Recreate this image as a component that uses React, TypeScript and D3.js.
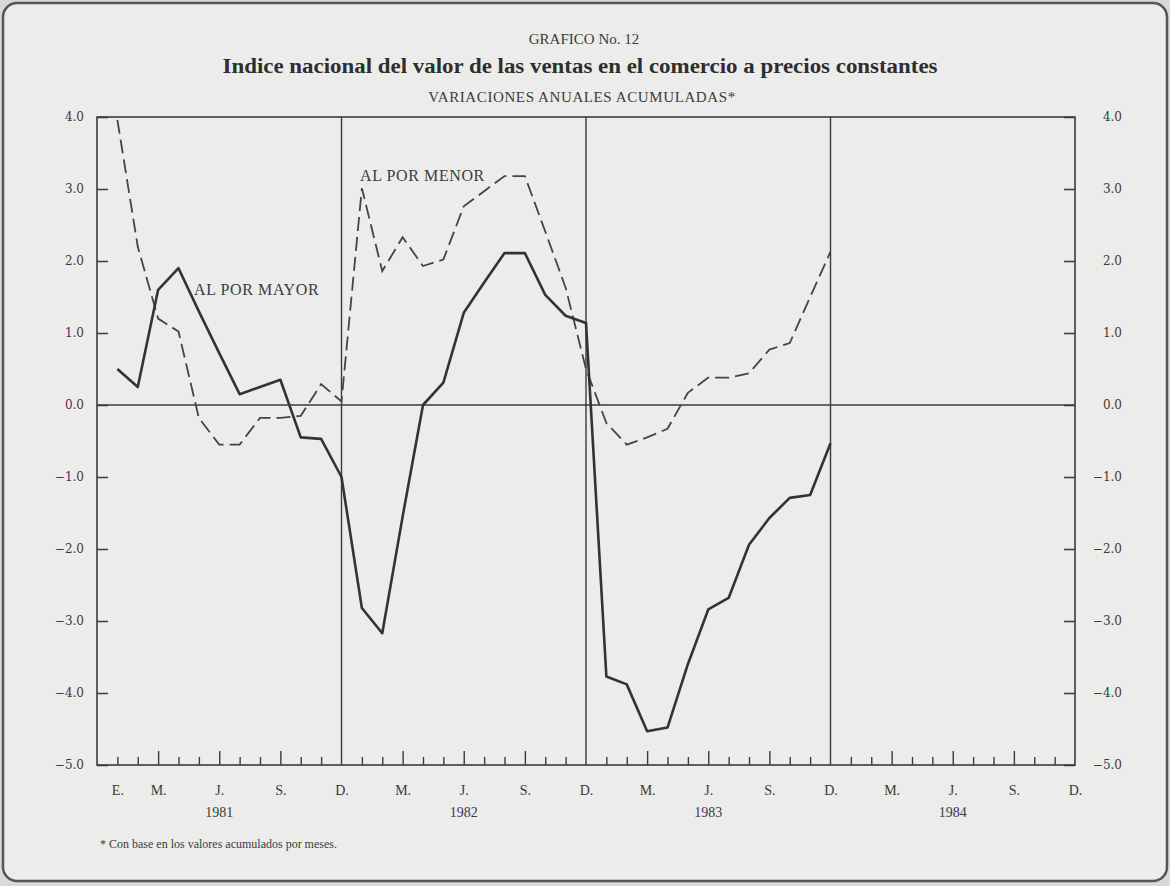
import * as d3 from "d3";
import { useRef, useEffect } from "react";

// Variaciones anuales acumuladas (%), enero 1981 - diciembre 1983
const alPorMayor = [
  0.5, 0.25, 1.6, 1.9, 1.3, 0.72, 0.15, 0.25, 0.35, -0.45, -0.47, -1.0,
  -2.82, -3.17, -1.55, 0.0, 0.31, 1.28, 1.7, 2.11, 2.11, 1.53, 1.24, 1.14,
  -3.77, -3.88, -4.53, -4.48, -3.6, -2.84, -2.68, -1.94, -1.57, -1.29, -1.25, -0.53,
];
const alPorMenor = [
  3.96, 2.2, 1.2, 1.02, -0.18, -0.55, -0.55, -0.18, -0.18, -0.15, 0.29, 0.05,
  3.01, 1.86, 2.33, 1.93, 2.02, 2.76, 2.97, 3.18, 3.18, 2.41, 1.63, 0.5,
  -0.25, -0.55, -0.45, -0.33, 0.17, 0.38, 0.38, 0.44, 0.77, 0.86, 1.5, 2.13,
];

const years = ["1981", "1982", "1983", "1984"];
const monthLabels = ["E.", "M.", "J.", "S.", "D.", "M.", "J.", "S.", "D.", "M.", "J.", "S.", "D.", "M.", "J.", "S.", "D."];
const monthLabelPos = [1, 3, 6, 9, 12, 15, 18, 21, 24, 27, 30, 33, 36, 39, 42, 45, 48];
const yTicks = [4, 3, 2, 1, 0, -1, -2, -3, -4, -5];

const INK = "#3b3b3b";

export default function App() {
  const ref = useRef<SVGSVGElement>(null);

  useEffect(() => {
    const width = 1170;
    const height = 886;
    const margin = { top: 117, right: 95, bottom: 121, left: 97 };

    const x = d3.scaleLinear().domain([0, 48]).range([margin.left, width - margin.right]);
    const y = d3.scaleLinear().domain([-5, 4]).range([height - margin.bottom, margin.top]);

    const svg = d3.select(ref.current);
    svg.selectAll("*").remove();

    // page
    svg.append("rect").attr("width", width).attr("height", height).attr("fill", "#d9d9d6");
    svg.append("rect")
      .attr("x", 3).attr("y", 3).attr("width", width - 6).attr("height", height - 8)
      .attr("rx", 14)
      .attr("fill", "#ececea")
      .attr("stroke", "#555").attr("stroke-width", 2.5);

    const serif = "'Liberation Serif', 'Times New Roman', serif";

    // --- headings ---
    svg.append("text")
      .attr("x", 584).attr("y", 44)
      .attr("text-anchor", "middle")
      .style("font-family", serif).style("font-size", "15px").attr("fill", INK)
      .text("GRAFICO No. 12");

    svg.append("text")
      .attr("x", 580).attr("y", 73)
      .attr("text-anchor", "middle")
      .attr("textLength", 715).attr("lengthAdjust", "spacingAndGlyphs")
      .style("font-family", serif).style("font-size", "20px").style("font-weight", "bold").attr("fill", "#2e2e2e")
      .text("Indice nacional del valor de las ventas en el comercio a precios constantes");

    svg.append("text")
      .attr("x", 582).attr("y", 102)
      .attr("text-anchor", "middle")
      .style("font-family", serif).style("font-size", "15px").style("letter-spacing", "0.6px").attr("fill", INK)
      .text("VARIACIONES ANUALES ACUMULADAS*");

    // --- frame & dividers ---
    const g = svg.append("g");
    g.append("rect")
      .attr("x", x(0)).attr("y", y(4))
      .attr("width", x(48) - x(0)).attr("height", y(-5) - y(4))
      .attr("fill", "none").attr("stroke", INK).attr("stroke-width", 1.6);

    g.selectAll("line.div")
      .data([12, 24, 36])
      .join("line")
      .attr("class", "div")
      .attr("x1", d => x(d)).attr("x2", d => x(d))
      .attr("y1", y(4)).attr("y2", y(-5))
      .attr("stroke", INK).attr("stroke-width", 1.4);

    g.append("line")
      .attr("x1", x(0)).attr("x2", x(48))
      .attr("y1", y(0)).attr("y2", y(0))
      .attr("stroke", INK).attr("stroke-width", 1.5);

    // --- y axes (ticks pointing inward) ---
    const fmt = (d: d3.NumberValue) => (+d < 0 ? "\u2212" : "") + Math.abs(+d).toFixed(1);

    const left = svg.append("g")
      .attr("transform", `translate(${x(0)},0)`)
      .call(d3.axisLeft(y).tickValues(yTicks).tickSize(-11).tickPadding(13).tickFormat(fmt));
    left.select(".domain").remove();

    const right = svg.append("g")
      .attr("transform", `translate(${x(48)},0)`)
      .call(d3.axisRight(y).tickValues(yTicks).tickSize(-11).tickPadding(13).tickFormat(fmt));
    right.select(".domain").remove();
    right.selectAll("text").attr("text-anchor", "end").attr("x", 47);

    [left, right].forEach(a => {
      a.selectAll("line").attr("stroke", INK).attr("stroke-width", 1.5);
      a.selectAll("text")
        .style("font-family", "'DejaVu Serif', serif").style("font-size", "12px")
        .attr("fill", INK);
    });

    // --- x axis: monthly ticks, quarter ticks longer ---
    const months = d3.range(1, 48).filter(m => m % 12 !== 0);
    const short = svg.append("g")
      .attr("transform", `translate(0,${y(-5)})`)
      .call(d3.axisBottom(x).tickValues(months.filter(m => m % 3 !== 0)).tickSize(-8).tickFormat(() => ""));
    const long = svg.append("g")
      .attr("transform", `translate(0,${y(-5)})`)
      .call(d3.axisBottom(x).tickValues(months.filter(m => m % 3 === 0)).tickSize(-14).tickFormat(() => ""));
    [short, long].forEach(a => {
      a.select(".domain").remove();
      a.selectAll("line").attr("stroke", INK).attr("stroke-width", 1.4);
    });

    const lab = svg.append("g")
      .attr("transform", `translate(0,${y(-5)})`)
      .call(d3.axisBottom(x).tickValues(monthLabelPos).tickSize(0).tickPadding(20)
        .tickFormat((_, i) => monthLabels[i]));
    lab.select(".domain").remove();
    lab.selectAll("text")
      .style("font-family", serif).style("font-size", "14px").attr("fill", INK);

    svg.append("g")
      .selectAll("text")
      .data(years)
      .join("text")
      .attr("x", (_, i) => x(i * 12 + 6))
      .attr("y", 817)
      .attr("text-anchor", "middle")
      .style("font-family", serif).style("font-size", "14px").attr("fill", INK)
      .text(d => d);

    // --- series ---
    const line = d3.line<number>()
      .x((_, i) => x(i + 1))
      .y(d => y(d));

    svg.append("path")
      .datum(alPorMenor)
      .attr("d", line)
      .attr("fill", "none")
      .attr("stroke", "#444")
      .attr("stroke-width", 1.8)
      .attr("stroke-dasharray", "14,6");

    svg.append("path")
      .datum(alPorMayor)
      .attr("d", line)
      .attr("fill", "none")
      .attr("stroke", "#333")
      .attr("stroke-width", 2.6)
      .attr("stroke-linejoin", "round");

    // series labels
    svg.append("text")
      .attr("x", 194).attr("y", 295)
      .style("font-family", serif).style("font-size", "16px").style("letter-spacing", "0.6px").attr("fill", INK)
      .text("AL POR MAYOR");
    svg.append("text")
      .attr("x", 360).attr("y", 181)
      .style("font-family", serif).style("font-size", "16px").style("letter-spacing", "0.6px").attr("fill", INK)
      .text("AL POR MENOR");

    // footnote
    svg.append("text")
      .attr("x", 100).attr("y", 848)
      .style("font-family", serif).style("font-size", "12px").attr("fill", INK)
      .text("* Con base en los valores acumulados por meses.");
  }, []);

  return (
    <div style={{ position: "absolute", left: 0, top: 0 }}>
      <svg ref={ref} width={1170} height={886} viewBox="0 0 1170 886" style={{ display: "block" }} />
    </div>
  );
}
